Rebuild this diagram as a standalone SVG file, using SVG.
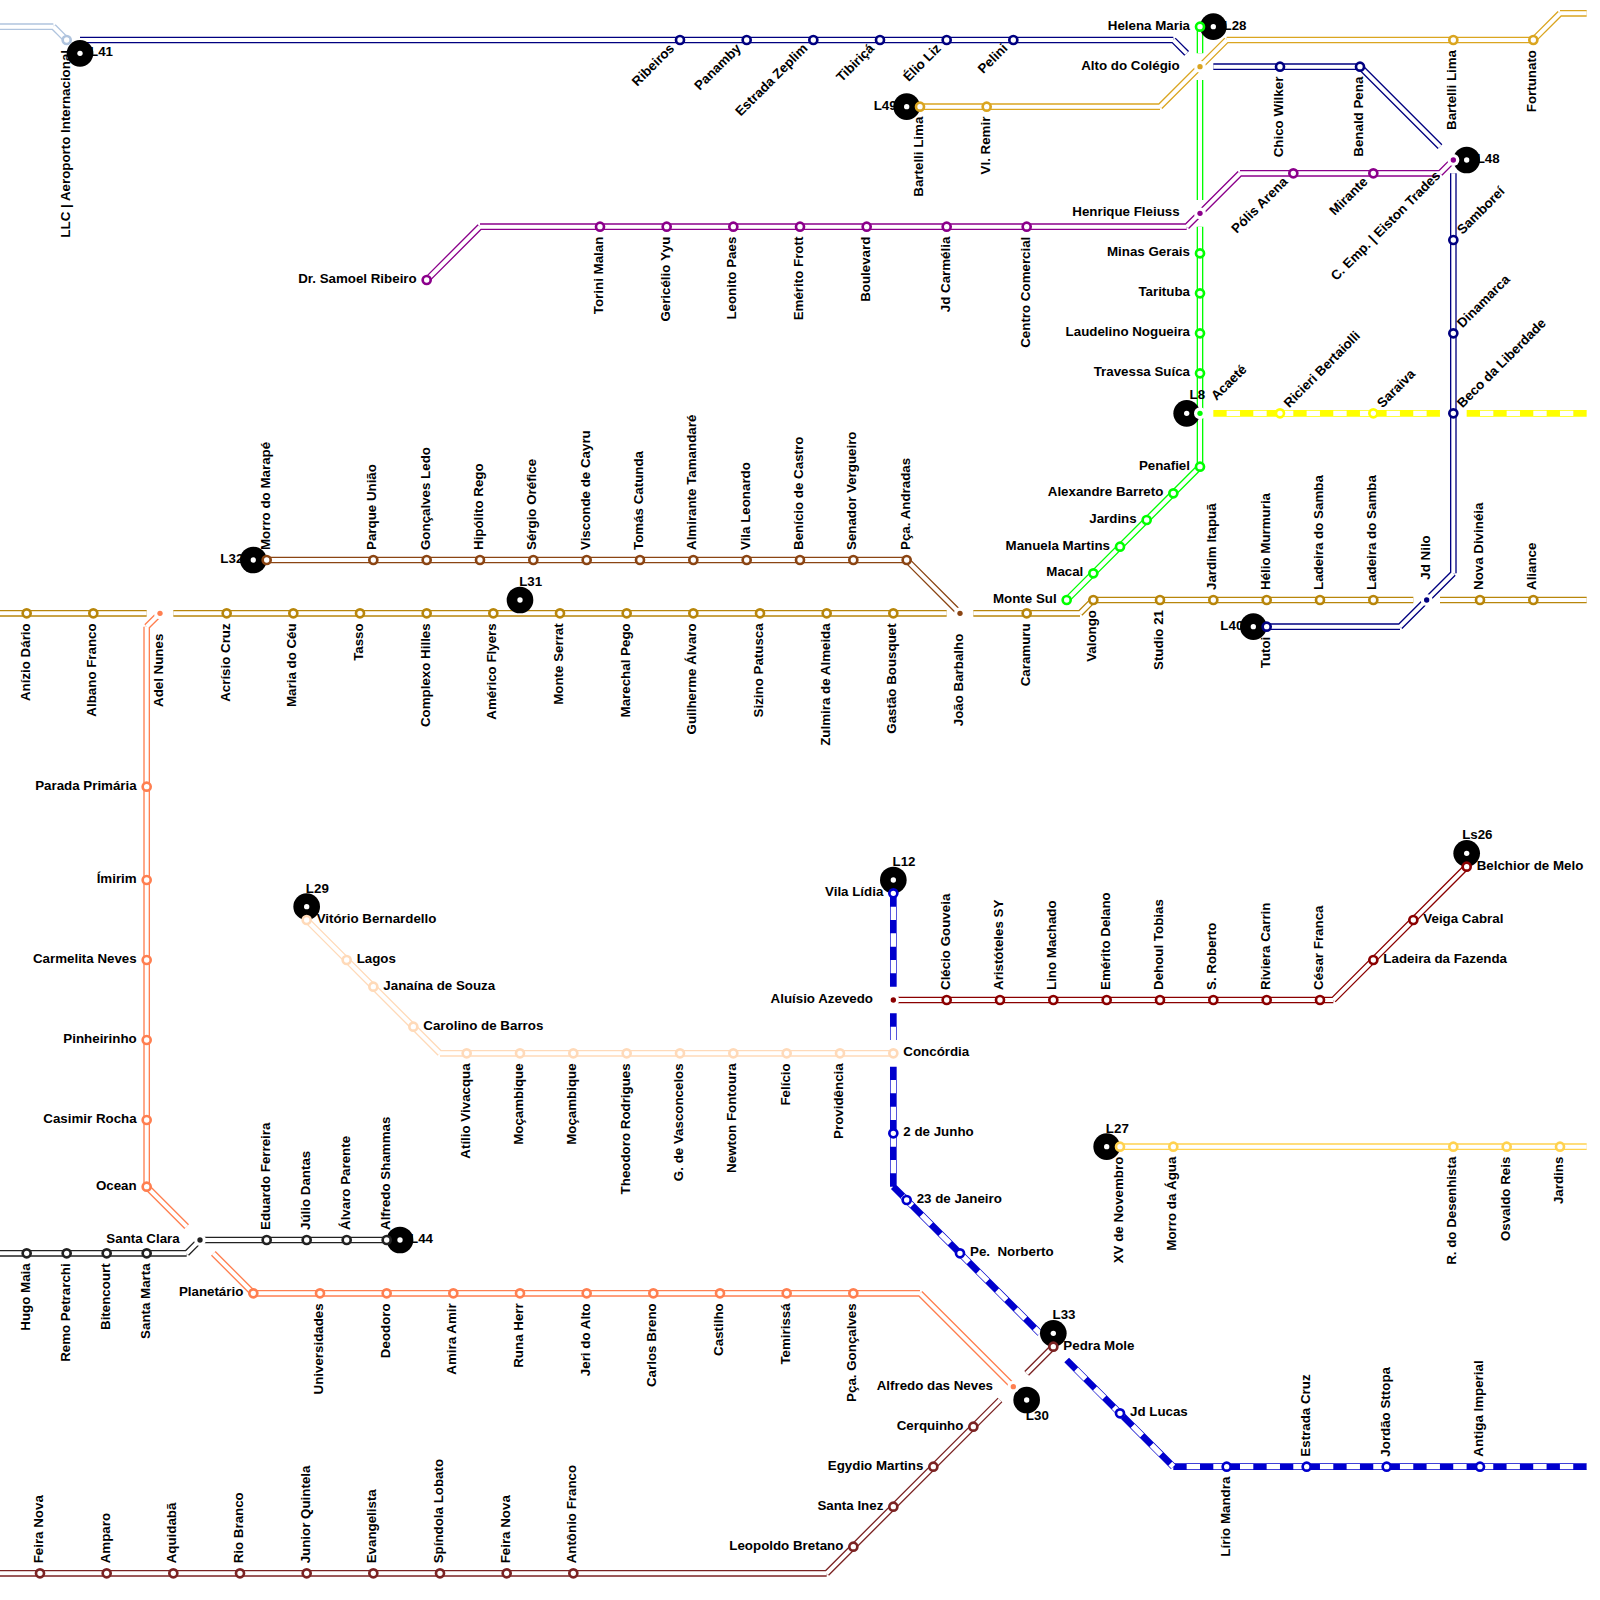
<svg xmlns="http://www.w3.org/2000/svg" width="1600" height="1600" viewBox="0 0 1600 1600">
<style>
text{font-family:"Liberation Sans",Arial,sans-serif;font-size:13.33px;font-weight:bold;fill:#000}
.e{text-anchor:end}
.m{text-anchor:middle}
.o{fill:none;stroke:currentColor;stroke-width:6.67}
.w{fill:none;stroke:#fff;stroke-width:4}
.d{stroke-width:5.33;stroke-dasharray:13.33 13.33;stroke-dashoffset:13.33}
.ring{fill:#fff;stroke:currentColor;stroke-width:2.67}
.dot{fill:currentColor}
.halo{fill:#fff}
.badge{fill:#000}
.hole{fill:#fff}
.steel{color:#b0c4de}.navy{color:#000080}.green{color:#00ff00}.gold{color:#daa520}.purple{color:#8b008b}.yellow{color:#ffff00}
.brown{color:#8b4513}.dgold{color:#b8860b}.coral{color:#ff7f50}.black{color:#222}.peach{color:#ffdab9}.dred{color:#8b0000}.blue{color:#0000cd}.lgold{color:#ffd24f}.maroon{color:#7b2323}
</style>
<g id="connectors">
<g class="steel"><path class="o" d="M0 26.67L53.33 26.67M53.33 26.67L66.67 40"/><path class="w" d="M0 26.67L53.33 26.67M53.33 26.67L66.67 40"/></g>
<g class="navy"><path class="o" d="M80 40L1173.33 40M1173.33 40L1186.67 53.33M1213.33 66.67L1360 66.67M1360 66.67L1440 146.67M1453.33 173.33L1453.33 573.33M1453.33 573.33L1400 626.67M1400 626.67L1266.67 626.67"/><path class="w" d="M80 40L1173.33 40M1173.33 40L1186.67 53.33M1213.33 66.67L1360 66.67M1360 66.67L1440 146.67M1453.33 173.33L1453.33 573.33M1453.33 573.33L1400 626.67M1400 626.67L1266.67 626.67"/></g>
<g class="gold"><path class="o" d="M1586.67 13.33L1560 13.33M1560 13.33L1533.33 40M1533.33 40L1226.67 40M1226.67 40L1160 106.67M1160 106.67L920 106.67"/><path class="w" d="M1586.67 13.33L1560 13.33M1560 13.33L1533.33 40M1533.33 40L1226.67 40M1226.67 40L1160 106.67M1160 106.67L920 106.67"/></g>
<g class="green"><path class="o" d="M1200 26.67L1200 53.33M1200 80L1200 200M1200 226.67L1200 466.67M1200 466.67L1066.67 600"/><path class="w" d="M1200 26.67L1200 53.33M1200 80L1200 200M1200 226.67L1200 466.67M1200 466.67L1066.67 600"/></g>
<g class="purple"><path class="o" d="M426.67 280L480 226.67M480 226.67L1186.67 226.67M1186.67 226.67L1240 173.33M1240 173.33L1440 173.33M1440 173.33L1453.33 160"/><path class="w" d="M426.67 280L480 226.67M480 226.67L1186.67 226.67M1186.67 226.67L1240 173.33M1240 173.33L1440 173.33M1440 173.33L1453.33 160"/></g>
<g class="yellow"><path class="o" d="M1213.33 413.33L1440 413.33M1466.67 413.33L1586.67 413.33"/><path class="w d" d="M1213.33 413.33L1440 413.33M1466.67 413.33L1586.67 413.33"/></g>
<g class="brown"><path class="o" d="M266.67 560L906.67 560M906.67 560L960 613.33"/><path class="w" d="M266.67 560L906.67 560M906.67 560L960 613.33"/></g>
<g class="dgold"><path class="o" d="M0 613.33L146.67 613.33M173.33 613.33L946.67 613.33M973.33 613.33L1080 613.33M1080 613.33L1093.33 600M1093.33 600L1413.33 600M1440 600L1586.67 600"/><path class="w" d="M0 613.33L146.67 613.33M173.33 613.33L946.67 613.33M973.33 613.33L1080 613.33M1080 613.33L1093.33 600M1093.33 600L1413.33 600M1440 600L1586.67 600"/></g>
<g class="coral"><path class="o" d="M160 613.33L146.67 626.67M146.67 626.67L146.67 1186.67M146.67 1186.67L186.67 1226.67M213.33 1253.33L253.33 1293.33M253.33 1293.33L920 1293.33M920 1293.33L1013.33 1386.67"/><path class="w" d="M160 613.33L146.67 626.67M146.67 626.67L146.67 1186.67M146.67 1186.67L186.67 1226.67M213.33 1253.33L253.33 1293.33M253.33 1293.33L920 1293.33M920 1293.33L1013.33 1386.67"/></g>
<g class="black"><path class="o" d="M0 1253.33L186.67 1253.33M186.67 1253.33L200 1240M200 1240L386.67 1240"/><path class="w" d="M0 1253.33L186.67 1253.33M186.67 1253.33L200 1240M200 1240L386.67 1240"/></g>
<g class="peach"><path class="o" d="M306.67 920L440 1053.33M440 1053.33L893.33 1053.33"/><path class="w" d="M306.67 920L440 1053.33M440 1053.33L893.33 1053.33"/></g>
<g class="dred"><path class="o" d="M893.33 1000L1333.33 1000M1333.33 1000L1466.67 866.67"/><path class="w" d="M893.33 1000L1333.33 1000M1333.33 1000L1466.67 866.67"/></g>
<g class="blue"><path class="o" d="M893.33 893.33L893.33 986.67M893.33 1013.33L893.33 1040M893.33 1066.67L893.33 1186.67M893.33 1186.67L1040 1333.33M1066.67 1360L1173.33 1466.67M1173.33 1466.67L1586.67 1466.67"/><path class="w d" d="M893.33 893.33L893.33 986.67M893.33 1013.33L893.33 1040M893.33 1066.67L893.33 1186.67M893.33 1186.67L1040 1333.33M1066.67 1360L1173.33 1466.67M1173.33 1466.67L1586.67 1466.67"/></g>
<g class="lgold"><path class="o" d="M1120 1146.67L1586.67 1146.67"/><path class="w" d="M1120 1146.67L1586.67 1146.67"/></g>
<g class="maroon"><path class="o" d="M0 1573.33L826.67 1573.33M826.67 1573.33L1000 1400M1026.67 1373.33L1053.33 1346.67"/><path class="w" d="M0 1573.33L826.67 1573.33M826.67 1573.33L1000 1400M1026.67 1373.33L1053.33 1346.67"/></g>
</g>
<g id="badges">
<g id="b-L41"><text x="90" y="56.33">L41</text><circle class="badge" cx="80" cy="53.33" r="13.33"/><circle class="hole" cx="80" cy="53.33" r="2.67"/></g>
<g id="b-L28"><text x="1223.5" y="29.67">L28</text><circle class="badge" cx="1213.33" cy="26.67" r="13.33"/><circle class="hole" cx="1213.33" cy="26.67" r="2.67"/></g>
<g id="b-L49"><text class="e" x="896.67" y="109.67">L49</text><circle class="badge" cx="906.67" cy="106.67" r="13.33"/><circle class="hole" cx="906.67" cy="106.67" r="2.67"/></g>
<g id="b-L48"><text x="1476.67" y="163">L48</text><circle class="badge" cx="1466.67" cy="160" r="13.33"/><circle class="hole" cx="1466.67" cy="160" r="2.67"/></g>
<g id="b-L8"><text class="m" x="1197.33" y="399.33">L8</text><circle class="badge" cx="1186.67" cy="413.33" r="13.33"/><circle class="hole" cx="1186.67" cy="413.33" r="2.67"/></g>
<g id="b-L32"><text class="e" x="243.33" y="563">L32</text><circle class="badge" cx="253.33" cy="560" r="13.33"/><circle class="hole" cx="253.33" cy="560" r="2.67"/></g>
<g id="b-L31"><text class="m" x="530.67" y="586">L31</text><circle class="badge" cx="520" cy="600" r="13.33"/><circle class="hole" cx="520" cy="600" r="2.67"/></g>
<g id="b-L40"><text class="e" x="1243.33" y="629.67">L40</text><circle class="badge" cx="1253.33" cy="626.67" r="13.33"/><circle class="hole" cx="1253.33" cy="626.67" r="2.67"/></g>
<g id="b-L29"><text class="m" x="317.33" y="892.67">L29</text><circle class="badge" cx="306.67" cy="906.67" r="13.33"/><circle class="hole" cx="306.67" cy="906.67" r="2.67"/></g>
<g id="b-L12"><text class="m" x="904" y="866">L12</text><circle class="badge" cx="893.33" cy="880" r="13.33"/><circle class="hole" cx="893.33" cy="880" r="2.67"/></g>
<g id="b-Ls26"><text class="m" x="1477.33" y="839.33">Ls26</text><circle class="badge" cx="1466.67" cy="853.33" r="13.33"/><circle class="hole" cx="1466.67" cy="853.33" r="2.67"/></g>
<g id="b-L27"><text class="m" x="1117.33" y="1132.67">L27</text><circle class="badge" cx="1106.67" cy="1146.67" r="13.33"/><circle class="hole" cx="1106.67" cy="1146.67" r="2.67"/></g>
<g id="b-L44"><text x="410" y="1243">L44</text><circle class="badge" cx="400" cy="1240" r="13.33"/><circle class="hole" cx="400" cy="1240" r="2.67"/></g>
<g id="b-L33"><text class="m" x="1064" y="1319.33">L33</text><circle class="badge" cx="1053.33" cy="1333.33" r="13.33"/><circle class="hole" cx="1053.33" cy="1333.33" r="2.67"/></g>
<g id="b-L30"><text class="m" x="1037.33" y="1420">L30</text><circle class="badge" cx="1026.67" cy="1400" r="13.33"/><circle class="hole" cx="1026.67" cy="1400" r="2.67"/></g>
</g>
<g id="stations">
<g class="steel"><g id="s1" transform="translate(66.67 40)"><circle class="ring" r="4"/><text class="e" transform="rotate(-90)" x="-10" y="3">LLC | Aeroporto Internacional</text></g></g>
<g class="navy">
<g id="s2" transform="translate(680 40)"><circle class="ring" r="4"/><text class="e" transform="rotate(-45)" x="-10" y="3">Ribeiros</text></g>
<g id="s3" transform="translate(746.67 40)"><circle class="ring" r="4"/><text class="e" transform="rotate(-45)" x="-10" y="3">Panamby</text></g>
<g id="s4" transform="translate(813.33 40)"><circle class="ring" r="4"/><text class="e" transform="rotate(-45)" x="-10" y="3">Estrada Zeplim</text></g>
<g id="s5" transform="translate(880 40)"><circle class="ring" r="4"/><text class="e" transform="rotate(-45)" x="-10" y="3">Tibiriçá</text></g>
<g id="s6" transform="translate(946.67 40)"><circle class="ring" r="4"/><text class="e" transform="rotate(-45)" x="-10" y="3">Élio Liz</text></g>
<g id="s7" transform="translate(1013.33 40)"><circle class="ring" r="4"/><text class="e" transform="rotate(-45)" x="-10" y="3">Pelini</text></g>
<g id="s8" transform="translate(1280 66.67)"><circle class="ring" r="4"/><text class="e" transform="rotate(-90)" x="-10" y="3">Chico Wilker</text></g>
<g id="s9" transform="translate(1360 66.67)"><circle class="ring" r="4"/><text class="e" transform="rotate(-90)" x="-10" y="3">Benald Pena</text></g>
<g id="s10" transform="translate(1453.33 240)"><circle class="ring" r="4"/><text transform="rotate(-45)" x="10" y="3">Samboreí</text></g>
<g id="s11" transform="translate(1453.33 333.33)"><circle class="ring" r="4"/><text transform="rotate(-45)" x="10" y="3">Dinamarca</text></g>
<g id="s12" transform="translate(1453.33 413.33)"><circle class="ring" r="4"/><text transform="rotate(-45)" x="10" y="3">Beco da Liberdade</text></g>
<g id="s13" transform="translate(1266.67 626.67)"><circle class="ring" r="4"/><text class="e" transform="rotate(-90)" x="-10" y="3">Tutoi</text></g>
</g>
<g class="gold">
<g id="s14" transform="translate(920 106.67)"><circle class="ring" r="4"/><text class="e" transform="rotate(-90)" x="-10" y="3">Bartelli Lima</text></g>
<g id="s15" transform="translate(986.67 106.67)"><circle class="ring" r="4"/><text class="e" transform="rotate(-90)" x="-10" y="3">Vl. Remir</text></g>
<g id="s16" transform="translate(1453.33 40)"><circle class="ring" r="4"/><text class="e" transform="rotate(-90)" x="-10" y="3">Bartelli Lima</text></g>
<g id="s17" transform="translate(1533.33 40)"><circle class="ring" r="4"/><text class="e" transform="rotate(-90)" x="-10" y="3">Fortunato</text></g>
<g id="i1" transform="translate(1200 66.67)"><circle class="halo" r="6"/><circle class="dot" r="2.67"/><text class="e" x="-20.33" y="3">Alto do Colégio</text></g>
</g>
<g class="green">
<g id="s18" transform="translate(1200 26.67)"><circle class="ring" r="4"/><text class="e" x="-10" y="3">Helena Maria</text></g>
<g id="s19" transform="translate(1200 253.33)"><circle class="ring" r="4"/><text class="e" x="-10" y="3">Minas Gerais</text></g>
<g id="s20" transform="translate(1200 293.33)"><circle class="ring" r="4"/><text class="e" x="-10" y="3">Tarituba</text></g>
<g id="s21" transform="translate(1200 333.33)"><circle class="ring" r="4"/><text class="e" x="-10" y="3">Laudelino Nogueira</text></g>
<g id="s22" transform="translate(1200 373.33)"><circle class="ring" r="4"/><text class="e" x="-10" y="3">Travessa Suíca</text></g>
<g id="i2" transform="translate(1200 413.33)"><circle class="halo" r="6"/><circle class="dot" r="2.67"/><text transform="rotate(-45)" x="20.33" y="3">Acaeté</text></g>
<g id="s23" transform="translate(1200 466.67)"><circle class="ring" r="4"/><text class="e" x="-10" y="3">Penafiel</text></g>
<g id="s24" transform="translate(1173.33 493.33)"><circle class="ring" r="4"/><text class="e" x="-10" y="3">Alexandre Barreto</text></g>
<g id="s25" transform="translate(1146.67 520)"><circle class="ring" r="4"/><text class="e" x="-10" y="3">Jardins</text></g>
<g id="s26" transform="translate(1120 546.67)"><circle class="ring" r="4"/><text class="e" x="-10" y="3">Manuela Martins</text></g>
<g id="s27" transform="translate(1093.33 573.33)"><circle class="ring" r="4"/><text class="e" x="-10" y="3">Macal</text></g>
<g id="s28" transform="translate(1066.67 600)"><circle class="ring" r="4"/><text class="e" x="-10" y="3">Monte Sul</text></g>
</g>
<g class="purple">
<g id="s29" transform="translate(426.67 280)"><circle class="ring" r="4"/><text class="e" x="-10" y="3">Dr. Samoel Ribeiro</text></g>
<g id="s30" transform="translate(600 226.67)"><circle class="ring" r="4"/><text class="e" transform="rotate(-90)" x="-10" y="3">Torini Malan</text></g>
<g id="s31" transform="translate(666.67 226.67)"><circle class="ring" r="4"/><text class="e" transform="rotate(-90)" x="-10" y="3">Gericélio Yyu</text></g>
<g id="s32" transform="translate(733.33 226.67)"><circle class="ring" r="4"/><text class="e" transform="rotate(-90)" x="-10" y="3">Leonito Paes</text></g>
<g id="s33" transform="translate(800 226.67)"><circle class="ring" r="4"/><text class="e" transform="rotate(-90)" x="-10" y="3">Emérito Frott</text></g>
<g id="s34" transform="translate(866.67 226.67)"><circle class="ring" r="4"/><text class="e" transform="rotate(-90)" x="-10" y="3">Boulevard</text></g>
<g id="s35" transform="translate(946.67 226.67)"><circle class="ring" r="4"/><text class="e" transform="rotate(-90)" x="-10" y="3">Jd Carmélia</text></g>
<g id="s36" transform="translate(1026.67 226.67)"><circle class="ring" r="4"/><text class="e" transform="rotate(-90)" x="-10" y="3">Centro Comercial</text></g>
<g id="i3" transform="translate(1200 213.33)"><circle class="halo" r="6"/><circle class="dot" r="2.67"/><text class="e" x="-20.33" y="3">Henrique Fleiuss</text></g>
<g id="s37" transform="translate(1293.33 173.33)"><circle class="ring" r="4"/><text class="e" transform="rotate(-45)" x="-10" y="3">Pólis Arena</text></g>
<g id="s38" transform="translate(1373.33 173.33)"><circle class="ring" r="4"/><text class="e" transform="rotate(-45)" x="-10" y="3">Mirante</text></g>
<g id="i4" transform="translate(1453.33 160)"><circle class="halo" r="6"/><circle class="dot" r="2.67"/><text class="e" transform="rotate(-45)" x="-20.33" y="3">C. Emp. | Eiston Trades</text></g>
</g>
<g class="yellow">
<g id="s39" transform="translate(1280 413.33)"><circle class="ring" r="4"/><text transform="rotate(-45)" x="10" y="3">Ricieri Bertaiolli</text></g>
<g id="s40" transform="translate(1373.33 413.33)"><circle class="ring" r="4"/><text transform="rotate(-45)" x="10" y="3">Saraiva</text></g>
</g>
<g class="brown">
<g id="s41" transform="translate(266.67 560)"><circle class="ring" r="4"/><text transform="rotate(-90)" x="10" y="3">Morro do Marapé</text></g>
<g id="s42" transform="translate(373.33 560)"><circle class="ring" r="4"/><text transform="rotate(-90)" x="10" y="3">Parque União</text></g>
<g id="s43" transform="translate(426.67 560)"><circle class="ring" r="4"/><text transform="rotate(-90)" x="10" y="3">Gonçalves Ledo</text></g>
<g id="s44" transform="translate(480 560)"><circle class="ring" r="4"/><text transform="rotate(-90)" x="10" y="3">Hipólito Rego</text></g>
<g id="s45" transform="translate(533.33 560)"><circle class="ring" r="4"/><text transform="rotate(-90)" x="10" y="3">Sérgio Oréfice</text></g>
<g id="s46" transform="translate(586.67 560)"><circle class="ring" r="4"/><text transform="rotate(-90)" x="10" y="3">Visconde de Cayru</text></g>
<g id="s47" transform="translate(640 560)"><circle class="ring" r="4"/><text transform="rotate(-90)" x="10" y="3">Tomás Catunda</text></g>
<g id="s48" transform="translate(693.33 560)"><circle class="ring" r="4"/><text transform="rotate(-90)" x="10" y="3">Almirante Tamandaré</text></g>
<g id="s49" transform="translate(746.67 560)"><circle class="ring" r="4"/><text transform="rotate(-90)" x="10" y="3">Vila Leonardo</text></g>
<g id="s50" transform="translate(800 560)"><circle class="ring" r="4"/><text transform="rotate(-90)" x="10" y="3">Benício de Castro</text></g>
<g id="s51" transform="translate(853.33 560)"><circle class="ring" r="4"/><text transform="rotate(-90)" x="10" y="3">Senador Vergueiro</text></g>
<g id="s52" transform="translate(906.67 560)"><circle class="ring" r="4"/><text transform="rotate(-90)" x="10" y="3">Pça. Andradas</text></g>
<g id="i5" transform="translate(960 613.33)"><circle class="halo" r="6"/><circle class="dot" r="2.67"/><text class="e" transform="rotate(-90)" x="-20.33" y="3">João Barbalho</text></g>
</g>
<g class="dgold">
<g id="s53" transform="translate(26.67 613.33)"><circle class="ring" r="4"/><text class="e" transform="rotate(-90)" x="-10" y="3">Anízio Dário</text></g>
<g id="s54" transform="translate(93.33 613.33)"><circle class="ring" r="4"/><text class="e" transform="rotate(-90)" x="-10" y="3">Albano Franco</text></g>
<g id="s55" transform="translate(226.67 613.33)"><circle class="ring" r="4"/><text class="e" transform="rotate(-90)" x="-10" y="3">Acrísio Cruz</text></g>
<g id="s56" transform="translate(293.33 613.33)"><circle class="ring" r="4"/><text class="e" transform="rotate(-90)" x="-10" y="3">Maria do Céu</text></g>
<g id="s57" transform="translate(360 613.33)"><circle class="ring" r="4"/><text class="e" transform="rotate(-90)" x="-10" y="3">Tasso</text></g>
<g id="s58" transform="translate(426.67 613.33)"><circle class="ring" r="4"/><text class="e" transform="rotate(-90)" x="-10" y="3">Complexo Hilles</text></g>
<g id="s59" transform="translate(493.33 613.33)"><circle class="ring" r="4"/><text class="e" transform="rotate(-90)" x="-10" y="3">Américo Flyers</text></g>
<g id="s60" transform="translate(560 613.33)"><circle class="ring" r="4"/><text class="e" transform="rotate(-90)" x="-10" y="3">Monte Serrat</text></g>
<g id="s61" transform="translate(626.67 613.33)"><circle class="ring" r="4"/><text class="e" transform="rotate(-90)" x="-10" y="3">Marechal Pego</text></g>
<g id="s62" transform="translate(693.33 613.33)"><circle class="ring" r="4"/><text class="e" transform="rotate(-90)" x="-10" y="3">Guilherme Álvaro</text></g>
<g id="s63" transform="translate(760 613.33)"><circle class="ring" r="4"/><text class="e" transform="rotate(-90)" x="-10" y="3">Sizino Patusca</text></g>
<g id="s64" transform="translate(826.67 613.33)"><circle class="ring" r="4"/><text class="e" transform="rotate(-90)" x="-10" y="3">Zulmira de Almeida</text></g>
<g id="s65" transform="translate(893.33 613.33)"><circle class="ring" r="4"/><text class="e" transform="rotate(-90)" x="-10" y="3">Gastão Bousquet</text></g>
<g id="s66" transform="translate(1026.67 613.33)"><circle class="ring" r="4"/><text class="e" transform="rotate(-90)" x="-10" y="3">Caramuru</text></g>
<g id="s67" transform="translate(1093.33 600)"><circle class="ring" r="4"/><text class="e" transform="rotate(-90)" x="-10" y="3">Valongo</text></g>
<g id="s68" transform="translate(1160 600)"><circle class="ring" r="4"/><text class="e" transform="rotate(-90)" x="-10" y="3">Studio 21</text></g>
<g id="s69" transform="translate(1213.33 600)"><circle class="ring" r="4"/><text transform="rotate(-90)" x="10" y="3">Jardim Itapuã</text></g>
<g id="s70" transform="translate(1266.67 600)"><circle class="ring" r="4"/><text transform="rotate(-90)" x="10" y="3">Hélio Murmuria</text></g>
<g id="s71" transform="translate(1320 600)"><circle class="ring" r="4"/><text transform="rotate(-90)" x="10" y="3">Ladeira do Samba</text></g>
<g id="s72" transform="translate(1373.33 600)"><circle class="ring" r="4"/><text transform="rotate(-90)" x="10" y="3">Ladeira do Samba</text></g>
<g id="s73" transform="translate(1480 600)"><circle class="ring" r="4"/><text transform="rotate(-90)" x="10" y="3">Nova Divinéia</text></g>
<g id="s74" transform="translate(1533.33 600)"><circle class="ring" r="4"/><text transform="rotate(-90)" x="10" y="3">Aliance</text></g>
</g>
<g class="navy"><g id="i6" transform="translate(1426.67 600)"><circle class="halo" r="6"/><circle class="dot" r="2.67"/><text transform="rotate(-90)" x="20.33" y="3">Jd Nilo</text></g></g>
<g class="coral">
<g id="i7" transform="translate(160 613.33)"><circle class="halo" r="6"/><circle class="dot" r="2.67"/><text class="e" transform="rotate(-90)" x="-20.33" y="3">Adel Nunes</text></g>
<g id="s75" transform="translate(146.67 786.67)"><circle class="ring" r="4"/><text class="e" x="-10" y="3">Parada Primária</text></g>
<g id="s76" transform="translate(146.67 880)"><circle class="ring" r="4"/><text class="e" x="-10" y="3">Ímirim</text></g>
<g id="s77" transform="translate(146.67 960)"><circle class="ring" r="4"/><text class="e" x="-10" y="3">Carmelita Neves</text></g>
<g id="s78" transform="translate(146.67 1040)"><circle class="ring" r="4"/><text class="e" x="-10" y="3">Pinheirinho</text></g>
<g id="s79" transform="translate(146.67 1120)"><circle class="ring" r="4"/><text class="e" x="-10" y="3">Casimir Rocha</text></g>
<g id="s80" transform="translate(146.67 1186.67)"><circle class="ring" r="4"/><text class="e" x="-10" y="3">Ocean</text></g>
<g id="s81" transform="translate(253.33 1293.33)"><circle class="ring" r="4"/><text class="e" x="-10" y="3">Planetário</text></g>
<g id="s82" transform="translate(320 1293.33)"><circle class="ring" r="4"/><text class="e" transform="rotate(-90)" x="-10" y="3">Universidades</text></g>
<g id="s83" transform="translate(386.67 1293.33)"><circle class="ring" r="4"/><text class="e" transform="rotate(-90)" x="-10" y="3">Deodoro</text></g>
<g id="s84" transform="translate(453.33 1293.33)"><circle class="ring" r="4"/><text class="e" transform="rotate(-90)" x="-10" y="3">Amira Amir</text></g>
<g id="s85" transform="translate(520 1293.33)"><circle class="ring" r="4"/><text class="e" transform="rotate(-90)" x="-10" y="3">Runa Herr</text></g>
<g id="s86" transform="translate(586.67 1293.33)"><circle class="ring" r="4"/><text class="e" transform="rotate(-90)" x="-10" y="3">Jeri do Alto</text></g>
<g id="s87" transform="translate(653.33 1293.33)"><circle class="ring" r="4"/><text class="e" transform="rotate(-90)" x="-10" y="3">Carlos Breno</text></g>
<g id="s88" transform="translate(720 1293.33)"><circle class="ring" r="4"/><text class="e" transform="rotate(-90)" x="-10" y="3">Castilho</text></g>
<g id="s89" transform="translate(786.67 1293.33)"><circle class="ring" r="4"/><text class="e" transform="rotate(-90)" x="-10" y="3">Temirissá</text></g>
<g id="s90" transform="translate(853.33 1293.33)"><circle class="ring" r="4"/><text class="e" transform="rotate(-90)" x="-10" y="3">Pça. Gonçalves</text></g>
<g id="i8" transform="translate(1013.33 1386.67)"><circle class="halo" r="6"/><circle class="dot" r="2.67"/><text class="e" x="-20.33" y="3">Alfredo das Neves</text></g>
</g>
<g class="black">
<g id="s91" transform="translate(26.67 1253.33)"><circle class="ring" r="4"/><text class="e" transform="rotate(-90)" x="-10" y="3">Hugo Maia</text></g>
<g id="s92" transform="translate(66.67 1253.33)"><circle class="ring" r="4"/><text class="e" transform="rotate(-90)" x="-10" y="3">Remo Petrarchi</text></g>
<g id="s93" transform="translate(106.67 1253.33)"><circle class="ring" r="4"/><text class="e" transform="rotate(-90)" x="-10" y="3">Bitencourt</text></g>
<g id="s94" transform="translate(146.67 1253.33)"><circle class="ring" r="4"/><text class="e" transform="rotate(-90)" x="-10" y="3">Santa Marta</text></g>
<g id="i9" transform="translate(200 1240)"><circle class="halo" r="6"/><circle class="dot" r="2.67"/><text class="e" x="-20.33" y="3">Santa Clara</text></g>
<g id="s95" transform="translate(266.67 1240)"><circle class="ring" r="4"/><text transform="rotate(-90)" x="10" y="3">Eduardo Ferreira</text></g>
<g id="s96" transform="translate(306.67 1240)"><circle class="ring" r="4"/><text transform="rotate(-90)" x="10" y="3">Júlio Dantas</text></g>
<g id="s97" transform="translate(346.67 1240)"><circle class="ring" r="4"/><text transform="rotate(-90)" x="10" y="3">Álvaro Parente</text></g>
<g id="s98" transform="translate(386.67 1240)"><circle class="ring" r="4"/><text transform="rotate(-90)" x="10" y="3">Alfredo Shammas</text></g>
</g>
<g class="peach">
<g id="s99" transform="translate(306.67 920)"><circle class="ring" r="4"/><text x="10" y="3">Vitório Bernardello</text></g>
<g id="s100" transform="translate(346.67 960)"><circle class="ring" r="4"/><text x="10" y="3">Lagos</text></g>
<g id="s101" transform="translate(373.33 986.67)"><circle class="ring" r="4"/><text x="10" y="3">Janaína de Souza</text></g>
<g id="s102" transform="translate(413.33 1026.67)"><circle class="ring" r="4"/><text x="10" y="3">Carolino de Barros</text></g>
<g id="s103" transform="translate(466.67 1053.33)"><circle class="ring" r="4"/><text class="e" transform="rotate(-90)" x="-10" y="3">Atílio Vivacqua</text></g>
<g id="s104" transform="translate(520 1053.33)"><circle class="ring" r="4"/><text class="e" transform="rotate(-90)" x="-10" y="3">Moçambique</text></g>
<g id="s105" transform="translate(573.33 1053.33)"><circle class="ring" r="4"/><text class="e" transform="rotate(-90)" x="-10" y="3">Moçambique</text></g>
<g id="s106" transform="translate(626.67 1053.33)"><circle class="ring" r="4"/><text class="e" transform="rotate(-90)" x="-10" y="3">Theodoro Rodrigues</text></g>
<g id="s107" transform="translate(680 1053.33)"><circle class="ring" r="4"/><text class="e" transform="rotate(-90)" x="-10" y="3">G. de Vasconcelos</text></g>
<g id="s108" transform="translate(733.33 1053.33)"><circle class="ring" r="4"/><text class="e" transform="rotate(-90)" x="-10" y="3">Newton Fontoura</text></g>
<g id="s109" transform="translate(786.67 1053.33)"><circle class="ring" r="4"/><text class="e" transform="rotate(-90)" x="-10" y="3">Felício</text></g>
<g id="s110" transform="translate(840 1053.33)"><circle class="ring" r="4"/><text class="e" transform="rotate(-90)" x="-10" y="3">Providência</text></g>
<g id="s111" transform="translate(893.33 1053.33)"><circle class="ring" r="4"/><text x="10" y="3">Concórdia</text></g>
</g>
<g class="dred">
<g id="i10" transform="translate(893.33 1000)"><circle class="halo" r="6"/><circle class="dot" r="2.67"/><text class="e" x="-20.33" y="3">Aluísio Azevedo</text></g>
<g id="s112" transform="translate(946.67 1000)"><circle class="ring" r="4"/><text transform="rotate(-90)" x="10" y="3">Clécio Gouveia</text></g>
<g id="s113" transform="translate(1000 1000)"><circle class="ring" r="4"/><text transform="rotate(-90)" x="10" y="3">Aristóteles SY</text></g>
<g id="s114" transform="translate(1053.33 1000)"><circle class="ring" r="4"/><text transform="rotate(-90)" x="10" y="3">Lino Machado</text></g>
<g id="s115" transform="translate(1106.67 1000)"><circle class="ring" r="4"/><text transform="rotate(-90)" x="10" y="3">Emérito Delano</text></g>
<g id="s116" transform="translate(1160 1000)"><circle class="ring" r="4"/><text transform="rotate(-90)" x="10" y="3">Dehoul Tobias</text></g>
<g id="s117" transform="translate(1213.33 1000)"><circle class="ring" r="4"/><text transform="rotate(-90)" x="10" y="3">S. Roberto</text></g>
<g id="s118" transform="translate(1266.67 1000)"><circle class="ring" r="4"/><text transform="rotate(-90)" x="10" y="3">Riviera Carrin</text></g>
<g id="s119" transform="translate(1320 1000)"><circle class="ring" r="4"/><text transform="rotate(-90)" x="10" y="3">César Franca</text></g>
<g id="s120" transform="translate(1373.33 960)"><circle class="ring" r="4"/><text x="10" y="3">Ladeira da Fazenda</text></g>
<g id="s121" transform="translate(1413.33 920)"><circle class="ring" r="4"/><text x="10" y="3">Veiga Cabral</text></g>
<g id="s122" transform="translate(1466.67 866.67)"><circle class="ring" r="4"/><text x="10" y="3">Belchior de Melo</text></g>
</g>
<g class="blue">
<g id="s123" transform="translate(893.33 893.33)"><circle class="ring" r="4"/><text class="e" x="-10" y="3">Vila Lídia</text></g>
<g id="s124" transform="translate(893.33 1133.33)"><circle class="ring" r="4"/><text x="10" y="3">2 de Junho</text></g>
<g id="s125" transform="translate(906.67 1200)"><circle class="ring" r="4"/><text x="10" y="3">23 de Janeiro</text></g>
<g id="s126" transform="translate(960 1253.33)"><circle class="ring" r="4"/><text x="10" y="3" xml:space="preserve">Pe.  Norberto</text></g>
<g id="s127" transform="translate(1120 1413.33)"><circle class="ring" r="4"/><text x="10" y="3">Jd Lucas</text></g>
<g id="s128" transform="translate(1226.67 1466.67)"><circle class="ring" r="4"/><text class="e" transform="rotate(-90)" x="-10" y="3">Lírio Mandra</text></g>
<g id="s129" transform="translate(1306.67 1466.67)"><circle class="ring" r="4"/><text transform="rotate(-90)" x="10" y="3">Estrada Cruz</text></g>
<g id="s130" transform="translate(1386.67 1466.67)"><circle class="ring" r="4"/><text transform="rotate(-90)" x="10" y="3">Jordão Sttopa</text></g>
<g id="s131" transform="translate(1480 1466.67)"><circle class="ring" r="4"/><text transform="rotate(-90)" x="10" y="3">Antiga Imperial</text></g>
</g>
<g class="lgold">
<g id="s132" transform="translate(1120 1146.67)"><circle class="ring" r="4"/><text class="e" transform="rotate(-90)" x="-10" y="3">XV de Novembro</text></g>
<g id="s133" transform="translate(1173.33 1146.67)"><circle class="ring" r="4"/><text class="e" transform="rotate(-90)" x="-10" y="3">Morro da Água</text></g>
<g id="s134" transform="translate(1453.33 1146.67)"><circle class="ring" r="4"/><text class="e" transform="rotate(-90)" x="-10" y="3">R. do Desenhista</text></g>
<g id="s135" transform="translate(1506.67 1146.67)"><circle class="ring" r="4"/><text class="e" transform="rotate(-90)" x="-10" y="3">Osvaldo Reis</text></g>
<g id="s136" transform="translate(1560 1146.67)"><circle class="ring" r="4"/><text class="e" transform="rotate(-90)" x="-10" y="3">Jardins</text></g>
</g>
<g class="maroon">
<g id="s137" transform="translate(40 1573.33)"><circle class="ring" r="4"/><text transform="rotate(-90)" x="10" y="3">Feira Nova</text></g>
<g id="s138" transform="translate(106.67 1573.33)"><circle class="ring" r="4"/><text transform="rotate(-90)" x="10" y="3">Amparo</text></g>
<g id="s139" transform="translate(173.33 1573.33)"><circle class="ring" r="4"/><text transform="rotate(-90)" x="10" y="3">Aquidabã</text></g>
<g id="s140" transform="translate(240 1573.33)"><circle class="ring" r="4"/><text transform="rotate(-90)" x="10" y="3">Rio Branco</text></g>
<g id="s141" transform="translate(306.67 1573.33)"><circle class="ring" r="4"/><text transform="rotate(-90)" x="10" y="3">Junior Quintela</text></g>
<g id="s142" transform="translate(373.33 1573.33)"><circle class="ring" r="4"/><text transform="rotate(-90)" x="10" y="3">Evangelista</text></g>
<g id="s143" transform="translate(440 1573.33)"><circle class="ring" r="4"/><text transform="rotate(-90)" x="10" y="3">Spíndola Lobato</text></g>
<g id="s144" transform="translate(506.67 1573.33)"><circle class="ring" r="4"/><text transform="rotate(-90)" x="10" y="3">Feira Nova</text></g>
<g id="s145" transform="translate(573.33 1573.33)"><circle class="ring" r="4"/><text transform="rotate(-90)" x="10" y="3">Antônio Franco</text></g>
<g id="s146" transform="translate(853.33 1546.67)"><circle class="ring" r="4"/><text class="e" x="-10" y="3">Leopoldo Bretano</text></g>
<g id="s147" transform="translate(893.33 1506.67)"><circle class="ring" r="4"/><text class="e" x="-10" y="3">Santa Inez</text></g>
<g id="s148" transform="translate(933.33 1466.67)"><circle class="ring" r="4"/><text class="e" x="-10" y="3">Egydio Martins</text></g>
<g id="s149" transform="translate(973.33 1426.67)"><circle class="ring" r="4"/><text class="e" x="-10" y="3">Cerquinho</text></g>
<g id="s150" transform="translate(1053.33 1346.67)"><circle class="ring" r="4"/><text x="10" y="3">Pedra Mole</text></g>
</g>
</g>
</svg>
